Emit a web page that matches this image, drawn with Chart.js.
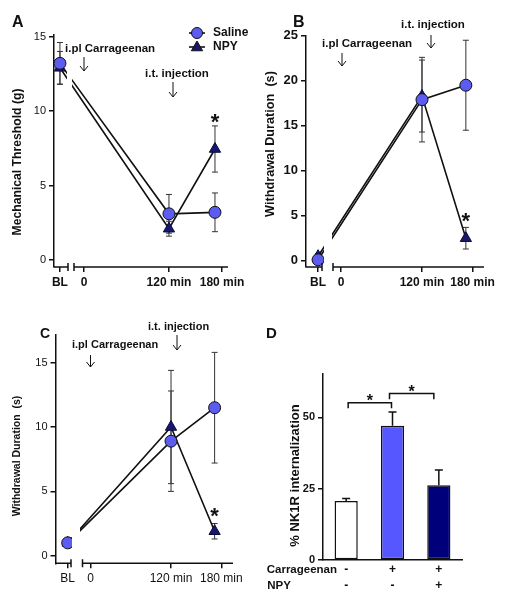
<!DOCTYPE html>
<html>
<head>
<meta charset="utf-8">
<script src="https://cdn.jsdelivr.net/npm/chart.js@4.4.0/dist/chart.umd.min.js"></script>
<style>
  body { margin: 0; background: #fff; }
  .panel { position: absolute; width: 254px; height: 300px; }
  canvas { display: block; }
</style>
</head>
<body>
<div class="panel" style="left:0;top:0"><canvas id="chartA" width="254" height="300"></canvas></div>
<div class="panel" style="left:254px;top:0"><canvas id="chartB" width="254" height="300"></canvas></div>
<div class="panel" style="left:0;top:300px"><canvas id="chartC" width="254" height="300"></canvas></div>
<div class="panel" style="left:254px;top:300px"><canvas id="chartD" width="254" height="300"></canvas></div>
<script>
// time points (min): BL, 120 min, 180 min
const timeX = [-34, 120, 185];
const timeTickX = [-34, 0, 120, 195];
const timeTickLabels = ["BL", "0", "120 min", "180 min"];

// A - mechanical threshold (g)
const mechSaline = [13.2, 3.1, 3.2];
const mechSalineErr = [1.4, 1.3, 1.3];
const mechNpy = [12.9, 2.1, 7.45];
const mechNpyErr = [1.1, 0.5, 1.55];
const mechTicks = [0, 5, 10, 15];

// B - withdrawal duration (s)
const durBSaline = [0.1, 17.9, 19.5];
const durBSalineErr = [0.3, 4.7, 5.0];
const durBNpy = [0.5, 18.3, 2.5];
const durBNpyErr = [0.3, 4.0, 1.2];
const durBTicks = [0, 5, 10, 15, 20, 25];

// C - withdrawal duration (s)
const durCSaline = [1.0, 8.9, 11.5];
const durCSalineErr = [0.2, 3.9, 4.3];
const durCNpy = [1.0, 10.0, 1.9];
const durCNpyErr = [0.2, 4.4, 0.6];
const durCTicks = [0, 5, 10, 15];

// D - % NK1R internalization
const nk1rGroups = [["-", "-"], ["+", "-"], ["+", "+"]];
const nk1rValues = [20.7, 47.0, 26.2];
const nk1rErr = [0.8, 4.8, 5.3];
const nk1rTicks = [0, 25, 50];

const W = 254, H = 300;
const FAM = "'Liberation Sans', Arial, Helvetica, sans-serif";
const SALINE_FILL = "#5c5cf0";
const NPY_FILL = "#17176e";
const INK = "#111";

Chart.defaults.font.family = FAM;
Chart.defaults.color = INK;

function drawTriangle(ctx, x, y, r) {
    ctx.beginPath();
    ctx.moveTo(x, y - r);
    ctx.lineTo(x + r * 0.866, y + r * 0.5);
    ctx.lineTo(x - r * 0.866, y + r * 0.5);
    ctx.closePath();
}

function drawArrow(ctx, x, y1, y2) {
    ctx.beginPath();
    ctx.moveTo(x, y1);
    ctx.lineTo(x, y2);
    ctx.moveTo(x - 4, y2 - 5);
    ctx.lineTo(x, y2);
    ctx.lineTo(x + 4, y2 - 5);
    ctx.stroke();
}

function drawStar(ctx, x, cy, size) {
    ctx.font = "bold " + size + "px " + FAM;
    ctx.textAlign = "center";
    ctx.textBaseline = "alphabetic";
    ctx.fillText("*", x, cy + size * 0.57);
}

function drawYTitle(ctx, t) {
    ctx.save();
    ctx.translate(t.x, t.y);
    ctx.rotate(-Math.PI / 2);
    ctx.font = "bold " + t.size + "px " + FAM;
    ctx.textAlign = "center";
    ctx.textBaseline = "middle";
    ctx.fillStyle = INK;
    ctx.fillText(t.text, 0, 0);
    ctx.restore();
}

function drawLetter(ctx, l) {
    ctx.font = "bold " + l.size + "px " + FAM;
    ctx.textAlign = "left";
    ctx.textBaseline = "alphabetic";
    ctx.fillStyle = INK;
    ctx.fillText(l.text, l.x, l.y);
}

/** error bars for the line panels, drawn behind lines and markers */
function drawErrorBars(chart) {
    const { ctx } = chart;
    const ys = chart.scales.y;
    ctx.save();
    ctx.strokeStyle = "#333";
    ctx.lineWidth = 1;
    chart.data.datasets.forEach((ds, i) => {
        const meta = chart.getDatasetMeta(i);
        ds.data.forEach((pt, j) => {
            const e = ds.errors[j];
            const x = meta.data[j].x;
            const top = ys.getPixelForValue(pt.y + e);
            const bot = ys.getPixelForValue(pt.y - e);
            ctx.beginPath();
            ctx.moveTo(x, top); ctx.lineTo(x, bot);
            ctx.moveTo(x - 3, top); ctx.lineTo(x + 3, top);
            ctx.moveTo(x - 3, bot); ctx.lineTo(x + 3, bot);
            ctx.stroke();
        });
    });
    ctx.restore();
}

function panelPlugin(p) {
    return {
        id: "panel" + p.id,
        beforeDatasetsDraw(chart) {
            drawErrorBars(chart);
            const { ctx } = chart;
            // leave a gap in the lines where the x axis is broken
            ctx.save();
            ctx.beginPath();
            ctx.rect(0, 0, p.gap[0], H);
            ctx.rect(p.gap[1], 0, W - p.gap[1], H);
            ctx.clip();
        },
        afterDatasetsDraw(chart) {
            chart.ctx.restore();
        },
        afterDraw(chart) {
            const { ctx, chartArea: a } = chart;
            ctx.save();
            ctx.strokeStyle = INK;
            ctx.fillStyle = INK;

            // broken x axis
            ctx.lineWidth = 1.5;
            ctx.beginPath();
            ctx.moveTo(a.left, a.bottom); ctx.lineTo(p.axisBreak[0], a.bottom);
            ctx.moveTo(p.axisBreak[0], a.bottom - 4); ctx.lineTo(p.axisBreak[0], a.bottom + 4);
            ctx.moveTo(p.axisBreak[1], a.bottom - 4); ctx.lineTo(p.axisBreak[1], a.bottom + 4);
            ctx.moveTo(p.axisBreak[1], a.bottom); ctx.lineTo(a.right, a.bottom);
            ctx.stroke();

            // annotations
            ctx.lineWidth = 1;
            p.arrows.forEach(ar => drawArrow(ctx, ar.x, ar.y1, ar.y2));
            ctx.font = "bold " + p.noteSize + "px " + FAM;
            ctx.textAlign = "left";
            ctx.textBaseline = "middle";
            p.notes.forEach(n => ctx.fillText(n.text, n.x, n.y));

            // significance star above NPY at 180 min
            const meta = chart.getDatasetMeta(1);
            const ds = chart.data.datasets[1];
            const top = chart.scales.y.getPixelForValue(ds.data[2].y + ds.errors[2]);
            drawStar(ctx, meta.data[2].x, top - p.starGap, p.starSize);

            drawLetter(ctx, p.letter);
            drawYTitle(ctx, p.yTitle);

            if (p.legend) {
                const lg = p.legend;
                ctx.lineWidth = 1.6;
                [0, 1].forEach(k => {
                    const y = lg.y + k * lg.dy;
                    ctx.beginPath();
                    ctx.moveTo(lg.x - 8, y); ctx.lineTo(lg.x + 8, y);
                    ctx.stroke();
                    ctx.lineWidth = 1;
                    if (k === 0) {
                        ctx.beginPath();
                        ctx.arc(lg.x, y, 5.5, 0, Math.PI * 2);
                        ctx.fillStyle = SALINE_FILL;
                    } else {
                        drawTriangle(ctx, lg.x, y + 0.5, 6.5);
                        ctx.fillStyle = NPY_FILL;
                    }
                    ctx.fill();
                    ctx.stroke();
                    ctx.lineWidth = 1.6;
                });
                ctx.fillStyle = INK;
                ctx.font = "bold 12px " + FAM;
                ctx.textAlign = "left";
                ctx.textBaseline = "middle";
                ctx.fillText("Saline", lg.x + 16, lg.y);
                ctx.fillText("NPY", lg.x + 16, lg.y + lg.dy);
            }
            ctx.restore();
        }
    };
}

function timeChart(p) {
    const toPts = vals => timeX.map((x, i) => ({ x: x, y: vals[i] }));
    return new Chart(document.getElementById(p.id), {
        type: "line",
        data: {
            datasets: [
                {
                    label: "Saline",
                    data: toPts(p.saline),
                    errors: p.salineErr,
                    borderColor: INK,
                    borderWidth: 1.6,
                    pointStyle: "circle",
                    pointRadius: 6,
                    pointBackgroundColor: SALINE_FILL,
                    pointBorderColor: INK,
                    pointBorderWidth: 1
                },
                {
                    label: "NPY",
                    data: toPts(p.npy),
                    errors: p.npyErr,
                    borderColor: INK,
                    borderWidth: 1.6,
                    pointStyle: "triangle",
                    pointRadius: 6.5,
                    pointBackgroundColor: NPY_FILL,
                    pointBorderColor: "#0a0a3a",
                    pointBorderWidth: 1
                }
            ]
        },
        options: {
            responsive: false,
            animation: false,
            layout: { padding: { left: 0, top: p.area.top, right: W - p.area.right, bottom: 0 } },
            plugins: { legend: { display: false }, tooltip: { enabled: false } },
            scales: {
                x: {
                    type: "linear",
                    min: p.xMin,
                    max: p.xMax,
                    afterFit: s => { s.height = H - p.area.bottom; },
                    afterBuildTicks: s => { s.ticks = timeTickX.map(v => ({ value: v })); },
                    ticks: {
                        autoSkip: false,
                        maxRotation: 0,
                        padding: 3,
                        font: p.xFont,
                        callback: (v, i) => timeTickLabels[i]
                    },
                    grid: { drawOnChartArea: false, drawTicks: true, tickLength: 5, color: INK, lineWidth: 1.5 },
                    border: { display: false }
                },
                y: {
                    min: p.yMin,
                    max: p.yMax,
                    afterFit: s => { s.width = p.area.left; },
                    afterBuildTicks: s => { s.ticks = p.yTicks.map(v => ({ value: v })); },
                    ticks: { padding: 3, font: p.yFont },
                    grid: { drawOnChartArea: false, drawTicks: true, tickLength: 5, color: INK, lineWidth: 1.5 },
                    border: { display: true, color: INK, width: 1.5 }
                }
            }
        },
        plugins: [panelPlugin(p)]
    });
}

timeChart({
    id: "chartA",
    saline: mechSaline, salineErr: mechSalineErr, npy: mechNpy, npyErr: mechNpyErr,
    yTicks: mechTicks,
    area: { left: 54, right: 228, top: 34.3, bottom: 267 },
    xMin: -42.4, xMax: 203.4, yMin: -0.47, yMax: 15.15,
    gap: [67, 72], axisBreak: [68, 74],
    xFont: { size: 12, weight: "bold" }, yFont: { size: 11 },
    noteSize: 11.5,
    notes: [{ text: "i.pl Carrageenan", x: 65, y: 49 }, { text: "i.t. injection", x: 145, y: 74 }],
    arrows: [{ x: 84, y1: 57, y2: 71 }, { x: 173, y1: 82, y2: 97 }],
    starGap: 9, starSize: 22,
    letter: { text: "A", x: 12, y: 27, size: 16 },
    yTitle: { text: "Mechanical Threshold (g)", x: 18, y: 162, size: 12.2 },
    legend: { x: 197, y: 33, dy: 14 }
});

timeChart({
    id: "chartB",
    saline: durBSaline, salineErr: durBSalineErr, npy: durBNpy, npyErr: durBNpyErr,
    yTicks: durBTicks,
    area: { left: 52, right: 230, top: 35.3, bottom: 267 },
    xMin: -51.9, xMax: 211.9, yMin: -0.7, yMax: 25.05,
    gap: [70, 78], axisBreak: [68, 79],
    xFont: { size: 12, weight: "bold" }, yFont: { size: 13, weight: "bold" },
    noteSize: 11.5,
    notes: [{ text: "i.pl Carrageenan", x: 68, y: 44 }, { text: "i.t. injection", x: 147, y: 25 }],
    arrows: [{ x: 88, y1: 53, y2: 66 }, { x: 177, y1: 35, y2: 48 }],
    starGap: 12, starSize: 22,
    letter: { text: "B", x: 39, y: 27, size: 16 },
    yTitle: { text: "Withdrawal Duration  (s)", x: 16, y: 144, size: 12.7 }
});

timeChart({
    id: "chartC",
    saline: durCSaline, salineErr: durCSalineErr, npy: durCNpy, npyErr: durCNpyErr,
    yTicks: durCTicks,
    area: { left: 55.5, right: 233, top: 35, bottom: 263.3 },
    xMin: -52.2, xMax: 212.4, yMin: -0.59, yMax: 17.15,
    gap: [72, 80], axisBreak: [71, 82.5],
    xFont: { size: 12 }, yFont: { size: 11 },
    noteSize: 11,
    notes: [{ text: "i.pl Carrageenan", x: 72, y: 45 }, { text: "i.t. injection", x: 148, y: 27 }],
    arrows: [{ x: 90.5, y1: 55, y2: 67 }, { x: 177, y1: 35, y2: 50 }],
    starGap: 13, starSize: 22,
    letter: { text: "C", x: 40, y: 38, size: 14 },
    yTitle: { text: "Withdrawal Duration  (s)", x: 17, y: 156, size: 10.5 }
});

// D - bar chart with upward error bars and significance brackets
const nk1rPlugin = {
    id: "nk1r",
    afterDatasetsDraw(chart) {
        const { ctx } = chart;
        const ys = chart.scales.y, xs = chart.scales.x;
        const meta = chart.getDatasetMeta(0);
        ctx.save();
        ctx.strokeStyle = INK;
        ctx.fillStyle = INK;
        ctx.lineWidth = 1.5;
        nk1rValues.forEach((v, i) => {
            const x = meta.data[i].x;
            const y0 = ys.getPixelForValue(v);
            const y1 = ys.getPixelForValue(v + nk1rErr[i]);
            ctx.beginPath();
            ctx.moveTo(x, y0); ctx.lineTo(x, y1);
            ctx.moveTo(x - 4, y1); ctx.lineTo(x + 4, y1);
            ctx.stroke();
        });
        // brackets
        const bracket = (i0, i1, off0, off1, top, drop) => {
            const xa = xs.getPixelForValue(i0) + off0, xb = xs.getPixelForValue(i1) + off1;
            const yt = ys.getPixelForValue(top), yd = ys.getPixelForValue(drop);
            ctx.beginPath();
            ctx.moveTo(xa, yd); ctx.lineTo(xa, yt); ctx.lineTo(xb, yt); ctx.lineTo(xb, yd);
            ctx.stroke();
            drawStar(ctx, (xa + xb) / 2, yt - 6, 16);
        };
        bracket(0, 1, 2, -1, 55.1, 53.2);
        bracket(1, 2, -3, -5, 58.3, 56.3);
        ctx.restore();
    },
    afterDraw(chart) {
        const { ctx } = chart;
        ctx.save();
        ctx.fillStyle = INK;
        drawLetter(ctx, { text: "D", x: 12, y: 38, size: 15 });
        drawYTitle(ctx, { text: "% NK1R internalization", x: 41.7, y: 175.5, size: 13 });
        ctx.font = "bold 11.5px " + FAM;
        ctx.textAlign = "left";
        ctx.textBaseline = "middle";
        ctx.fillText("Carrageenan", 12.7, 270);
        ctx.fillText("NPY", 13.3, 285.7);
        ctx.restore();
    }
};

new Chart(document.getElementById("chartD"), {
    type: "bar",
    data: {
        labels: nk1rGroups,
        datasets: [{
            data: nk1rValues,
            backgroundColor: ["#ffffff", "#5757ff", "#00007a"],
            borderColor: INK,
            borderWidth: 1.5,
            borderSkipped: false,
            barPercentage: 0.5,
            categoryPercentage: 1
        }]
    },
    options: {
        responsive: false,
        animation: false,
        layout: { padding: { left: 0, top: 73.3, right: 46, bottom: 0 } },
        plugins: { legend: { display: false }, tooltip: { enabled: false } },
        scales: {
            x: {
                afterFit: s => { s.height = 40; },
                ticks: { padding: 2, font: { size: 12, weight: "bold", lineHeight: 1.3 } },
                grid: { display: false, drawTicks: false },
                border: { display: true, color: INK, width: 1.5 }
            },
            y: {
                min: 0,
                max: 65.4,
                afterFit: s => { s.width = 69; },
                afterBuildTicks: s => { s.ticks = nk1rTicks.map(v => ({ value: v })); },
                ticks: { padding: 3, font: { size: 11, weight: "bold" } },
                grid: { drawOnChartArea: false, drawTicks: true, tickLength: 5, color: INK, lineWidth: 1.5 },
                border: { display: true, color: INK, width: 1.5 }
            }
        }
    },
    plugins: [nk1rPlugin]
});
</script>
</body>
</html>
